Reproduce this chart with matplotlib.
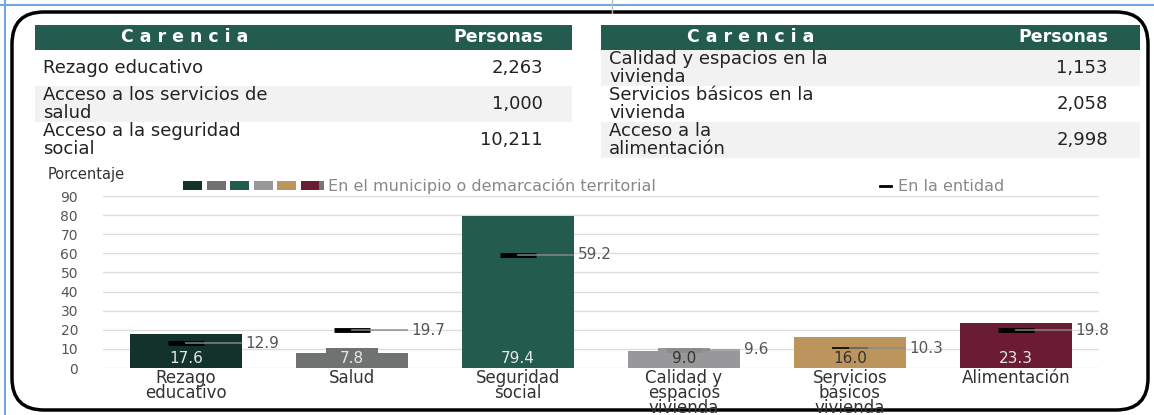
import matplotlib
matplotlib.use('Agg')
import matplotlib.pyplot as plt
from matplotlib.patches import Rectangle, FancyBboxPatch

plt.rcParams['font.family'] = ['DejaVu Sans']

# Tablas de carencias
carencias_izq = ['Rezago educativo', 'Acceso a los servicios de\nsalud', 'Acceso a la seguridad\nsocial']
personas_izq = [2263, 1000, 10211]
carencias_der = ['Calidad y espacios en la\nvivienda', 'Servicios básicos en la\nvivienda', 'Acceso a la\nalimentación']
personas_der = [1153, 2058, 2998]

# Grafica
categorias = ['Rezago\neducativo', 'Salud', 'Seguridad\nsocial',
              'Calidad y\nespacios\nvivienda', 'Servicios\nbásicos\nvivienda', 'Alimentación']
municipio = [17.6, 7.8, 79.4, 9.0, 16.0, 23.3]
entidad = [12.9, 19.7, 59.2, 9.6, 10.3, 19.8]
y_ticks = [0, 10, 20, 30, 40, 50, 60, 70, 80, 90]

colores = ['#13322B', '#6F7271', '#235B4E', '#98989A', '#BC955C', '#691C32']
color_texto_barra = ['#E6E6E6', '#E6E6E6', '#E6E6E6', '#333333', '#333333', '#E6E6E6']
color_marca = ['black', 'black', 'black', '#8C8C8C', 'black', 'black']
grosor_marca = [3.5, 3.5, 3.5, 3.5, 1.2, 3.5]

VERDE = '#235B4E'
GRIS_FILA = '#F2F2F2'

W, H = 1154, 415
fig = plt.figure(figsize=(W / 100, H / 100), dpi=100)

# capa de fondo en pixeles
bg = fig.add_axes([0, 0, 1, 1])
bg.set_xlim(0, W)
bg.set_ylim(H, 0)
bg.axis('off')

# lineas azules y marco redondeado
bg.plot([5, 5], [0, H], color='#6FA8DC', lw=1.5)
bg.plot([0, W], [5, 5], color='#6FA8DC', lw=1.5)
bg.plot([612, 612], [0, 13], color='#BBBBBB', lw=1)
marco = FancyBboxPatch((12, 12), 1136, 398, boxstyle='round,pad=0,rounding_size=32',
                       fc='none', ec='black', lw=2.5)
bg.add_patch(marco)


def tabla(x0, x1, x_val, filas_grises, nombres, valores):
    bg.add_patch(Rectangle((x0, 25), x1 - x0, 25, fc=VERDE, ec='none'))
    bg.text(x0 + 150, 37.5, 'C a r e n c i a', color='white', fontsize=12.5,
            fontweight='bold', ha='center', va='center')
    bg.text(x_val, 37.5, 'Personas', color='white', fontsize=12.5,
            fontweight='bold', ha='right', va='center')
    for k, (nom, val) in enumerate(zip(nombres, valores)):
        y = 50 + 36 * k
        if k in filas_grises:
            bg.add_patch(Rectangle((x0, y), x1 - x0, 36, fc=GRIS_FILA, ec='none'))
        bg.text(x0 + 8, y + 18, nom, fontsize=13, color='#222222', ha='left',
                va='center', linespacing=0.95)
        bg.text(x_val, y + 18, f'{val:,}', fontsize=13, color='#222222',
                ha='right', va='center')


tabla(35, 572, 543, [1], carencias_izq, personas_izq)
tabla(601, 1140, 1108, [0, 2], carencias_der, personas_der)

# leyenda
bg.text(48, 174, 'Porcentaje', fontsize=10.5, color='#333333', ha='left', va='center')
for k, c in enumerate(colores):
    bg.add_patch(Rectangle((183 + 23.5 * k, 181.5), 19, 9, fc=c, ec='none'))
bg.add_patch(Rectangle((319, 181.5), 5, 9, fc='#777777', ec='none'))
bg.text(328, 186, 'En el municipio o demarcación territorial', fontsize=11.5,
        color='#888888', ha='left', va='center')
bg.plot([880, 891], [186, 186], color='black', lw=2)
bg.text(898, 186, 'En la entidad', fontsize=11.5, color='#888888', ha='left', va='center')

# grafica de barras
ax = fig.add_axes([103 / W, 1 - 368 / H, 996 / W, 172 / H])
ax.set_facecolor('none')
x = list(range(len(categorias)))
ax.bar(x, municipio, width=0.67, color=colores, zorder=2)

for i, v in enumerate(municipio):
    y_lab = 5.2
    # caja del rotulo con el color de la barra
    ax.add_patch(Rectangle((i - 0.155, y_lab - 5.2), 0.31, 10.5, fc=colores[i],
                           ec='none', zorder=2.5))
    ax.text(i, y_lab, f'{v:.1f}', ha='center', va='center', fontsize=11,
            color=color_texto_barra[i], zorder=5)

for i, e in enumerate(entidad):
    ax.plot([i - 0.11, i + 0.11], [e, e], color=color_marca[i],
            lw=grosor_marca[i], solid_capstyle='butt', zorder=3)
    ax.plot([i, i + 0.33], [e, e], color='#8A8A8A', lw=1.3, alpha=0.8, zorder=3.5)
    ax.text(i + 0.36, e, f'{e:.1f}', ha='left', va='center', fontsize=11,
            color='#555555', zorder=5)

ax.set_xlim(-0.5, 5.5)
ax.set_ylim(0, 90)
ax.set_yticks(y_ticks)
ax.set_yticklabels([str(t) for t in y_ticks])
ax.set_xticks(x)
ax.set_xticklabels(categorias, fontsize=12, color='#333333', linespacing=0.78)
ax.tick_params(axis='y', length=0, pad=18, labelsize=10, labelcolor='#555555')
ax.tick_params(axis='x', length=0, pad=1)
for s in ax.spines.values():
    s.set_visible(False)
ax.grid(axis='y', color='#DDDDDD', lw=1, zorder=0)
ax.set_axisbelow(True)

fig.savefig('out.png', dpi=100)
